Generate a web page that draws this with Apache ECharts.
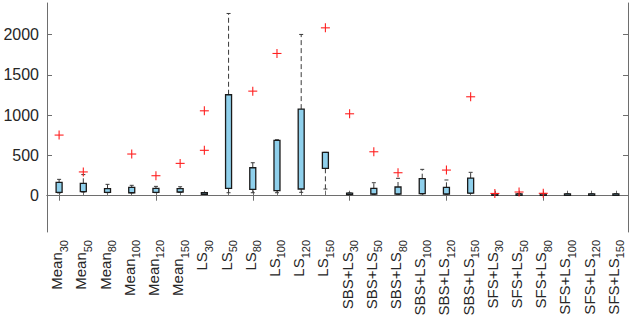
<!DOCTYPE html>
<html>
<head>
<meta charset="utf-8">
<script src="https://cdn.jsdelivr.net/npm/echarts@6/dist/echarts.min.js"></script>
<style>
html,body{margin:0;padding:0;background:#fff;}
#chart{width:629px;height:327px;}
</style>
</head>
<body>
<div id="chart"></div>
<script>
// Category labels: base text and subscript
const labelBase = ['Mean','Mean','Mean','Mean','Mean','Mean',
  'LS','LS','LS','LS','LS','LS',
  'SBS+LS','SBS+LS','SBS+LS','SBS+LS','SBS+LS','SBS+LS',
  'SFS+LS','SFS+LS','SFS+LS','SFS+LS','SFS+LS','SFS+LS'];
const labelSub = ['30','50','80','100','120','150',
  '30','50','80','100','120','150',
  '30','50','80','100','120','150',
  '30','50','80','100','120','150'];
const categories = labelBase.map((b, i) => b + '_' + labelSub[i]);

// Box statistics
const whiskerLow  = [35, 45, 38, 35, 38, 42, 15, 37, 37, 37, 42, 83, 12, 18, 18, 22, 18, 30, 8, 8, 8, 8, 8, 8];
const q1          = [42, 50, 42, 37, 42, 46, 17, 92, 79, 62, 83, 340, 15, 21, 21, 25, 21, 33, 10, 10, 10, 10, 10, 10];
const q3          = [166, 154, 87, 104, 92, 87, 37, 1252, 347, 686, 1074, 538, 32, 92, 108, 211, 104, 219, 22, 22, 22, 22, 22, 22];
const whiskerHigh = [203, 262, 141, 129, 116, 111, 40, 2260, 409, 694, 2000, 538, 35, 161, 216, 327, 195, 290, 25, 25, 25, 25, 25, 25];

// Outliers: [category index, value]
const outliers = [
  [0, 752], [1, 295], [3, 517], [4, 248], [5, 401],
  [6, 563], [6, 1053], [8, 1297], [9, 1764], [11, 2082],
  [12, 1016], [13, 545], [14, 285], [16, 318], [17, 1227],
  [18, 28], [19, 46], [20, 30]
];

const yTicks = [0, 500, 1000, 1500, 2000];

const boxData = categories.map((c, i) => [i, whiskerLow[i], q1[i], q3[i], whiskerHigh[i]]);

const chart = echarts.init(document.getElementById('chart'), null, {renderer: 'svg'});
const axisColor = '#6e6e6e';
const textColor = '#262626';
const font = 'Liberation Sans, Arial, Helvetica, sans-serif';

function renderBox(params, api) {
  const i = api.value(0);
  const lo = api.coord([i, api.value(1)]);
  const b1 = api.coord([i, api.value(2)]);
  const b3 = api.coord([i, api.value(3)]);
  const hi = api.coord([i, api.value(4)]);
  const x = lo[0];
  const bw = 6, cw = 2;
  const children = [];
  const wStyle = {stroke: '#3a3a3a', lineWidth: 1, lineDash: [5, 3], fill: null};
  const cStyle = {stroke: '#3a3a3a', lineWidth: 1, fill: null};
  children.push({type: 'line', shape: {x1: x, y1: b3[1], x2: x, y2: hi[1]}, style: wStyle});
  children.push({type: 'line', shape: {x1: x, y1: b1[1], x2: x, y2: lo[1]}, style: wStyle});
  children.push({type: 'line', shape: {x1: x - cw, y1: hi[1], x2: x + cw, y2: hi[1]}, style: cStyle});
  children.push({type: 'line', shape: {x1: x - cw, y1: lo[1], x2: x + cw, y2: lo[1]}, style: cStyle});
  children.push({type: 'rect', shape: {x: x - bw / 2, y: b3[1], width: bw, height: Math.max(b1[1] - b3[1], 1.5)},
    style: {fill: '#8fd0ec', stroke: '#1a1a1a', lineWidth: 1.3}});
  return {type: 'group', children: children};
}

function renderPlus(params, api) {
  const p = api.coord([api.value(0), api.value(1)]);
  const s = 4.5;
  const st = {stroke: '#ff2020', lineWidth: 1.1, fill: null};
  return {type: 'group', children: [
    {type: 'line', shape: {x1: p[0] - s, y1: p[1], x2: p[0] + s, y2: p[1]}, style: st},
    {type: 'line', shape: {x1: p[0], y1: p[1] - s, x2: p[0], y2: p[1] + s}, style: st}
  ]};
}

const option = {
  animation: false,
  backgroundColor: '#fff',
  grid: {left: 47, right: 1, top: 3, bottom: 95, containLabel: false},
  xAxis: [{
    type: 'category',
    data: categories,
    position: 'bottom',
    axisLine: {show: true, lineStyle: {color: axisColor, width: 1}},
    axisTick: {show: true, inside: true, alignWithLabel: true, length: 5, lineStyle: {color: axisColor}},
    splitLine: {show: false},
    axisLabel: {
      rotate: 90, margin: 8, interval: 0, color: textColor,
      formatter: function (v) {
        const parts = v.split('_');
        return '{b|' + parts[0] + '}{s|' + parts[1] + '}';
      },
      rich: {
        b: {fontSize: 15, fontFamily: font, color: textColor, lineHeight: 20, verticalAlign: 'top'},
        s: {fontSize: 11, fontFamily: font, color: textColor, lineHeight: 20, verticalAlign: 'bottom'}
      }
    }
  }, {
    type: 'category',
    data: categories,
    position: 'top',
    axisLine: {show: true, lineStyle: {color: axisColor, width: 1}},
    axisTick: {show: true, inside: true, alignWithLabel: true, length: 5, lineStyle: {color: axisColor}},
    axisLabel: {show: false},
    splitLine: {show: false}
  }],
  yAxis: [{
    type: 'value',
    min: -450, max: 2390,
    position: 'left',
    axisLine: {show: true, lineStyle: {color: axisColor, width: 1}},
    axisTick: {show: true, inside: true, length: 5, customValues: yTicks, lineStyle: {color: axisColor}},
    axisLabel: {customValues: yTicks, margin: 8, fontSize: 16, color: textColor, fontFamily: font,
      formatter: function (v) { return String(v); }},
    splitLine: {show: false}
  }, {
    type: 'value',
    min: -450, max: 2390,
    position: 'right',
    axisLine: {show: true, lineStyle: {color: axisColor, width: 1}},
    axisTick: {show: true, inside: true, length: 5, customValues: yTicks, lineStyle: {color: axisColor}},
    axisLabel: {show: false},
    splitLine: {show: false}
  }],
  series: [{
    type: 'custom',
    renderItem: renderBox,
    data: boxData,
    encode: {x: 0, y: [1, 2, 3, 4]},
    z: 2
  }, {
    type: 'custom',
    renderItem: renderPlus,
    data: outliers,
    encode: {x: 0, y: 1},
    z: 3
  }]
};
chart.setOption(option);
</script>
</body>
</html>
